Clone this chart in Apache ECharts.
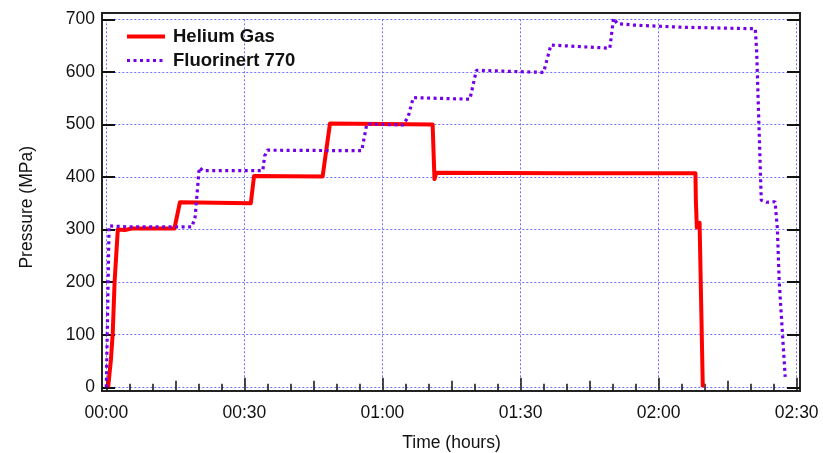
<!DOCTYPE html>
<html>
<head>
<meta charset="utf-8">
<script src="https://cdn.jsdelivr.net/npm/echarts@6/dist/echarts.min.js"></script>
<style>
html,body{margin:0;padding:0;background:#fff;}
#chart{width:823px;height:453px;}
</style>
</head>
<body>
<div id="chart"></div>
<script>
// time in minutes, pressure in MPa
const seriesNames = ['Helium Gas', 'Fluorinert 770'];
const xTickLabels = ['00:00', '00:30', '01:00', '01:30', '02:00', '02:30'];
const heliumTime = [0.4, 1.0, 1.4, 1.8, 2.5, 4.0, 5.5, 14.8, 16.0, 31.4, 32.1, 47.0, 48.6, 60.0, 70.9, 71.3, 71.7, 100.0, 128.0, 128.1, 128.3, 128.9, 129.6];
const heliumPressure = [0, 52, 103, 200, 300, 299, 302, 302, 352, 350, 402, 401, 502, 501, 500, 396, 408, 407, 407, 353, 304, 313, 0];
const fluoroTime = [0.0, 0.3, 0.6, 5.0, 18.6, 19.3, 20.2, 21.0, 34.0, 34.4, 35.0, 55.5, 56.6, 64.5, 65.6, 66.7, 79.0, 80.4, 95.0, 96.6, 109.4, 110.2, 111.0, 114.5, 124.7, 141.0, 141.3, 142.3, 143.5, 145.3, 145.8, 146.2, 146.9, 147.5];
const fluoroPressure = [0, 150, 307, 305, 305, 324, 418, 412, 412, 440, 451, 450, 501, 499, 515, 551, 548, 603, 599, 651, 645, 702, 692, 689, 685, 682, 640, 356, 352, 353, 302, 201, 103, 20];

const zip = (a, b) => a.map((v, i) => [v, b[i]]);
const font = "'Liberation Sans', Arial, Helvetica, sans-serif";
const gridColor = '#7070ff';
const heliumStyle = { color: '#ff0000', width: 4, type: 'solid', join: 'round' };
const fluoroStyle = { color: '#7400ea', width: 3.2, type: [3, 3.5] };

const chart = echarts.init(document.getElementById('chart'));
chart.setOption({
  animation: false,
  backgroundColor: '#fff',
  textStyle: { fontFamily: font },
  grid: [
    { left: 102, right: 23, top: 13, bottom: 62, show: true, borderColor: '#222', borderWidth: 2, backgroundColor: 'transparent', containLabel: false, outerBoundsMode: 'none' },
    { left: 106.3, right: 26.3, top: 19.3, bottom: 65.7, containLabel: false, outerBoundsMode: 'none' }
  ],
  legend: {
    orient: 'vertical',
    left: 117, top: 21,
    padding: [6, 8, 6, 8],
    itemWidth: 38, itemHeight: 16, itemGap: 5,
    itemStyle: { color: 'transparent', borderColor: 'transparent', borderWidth: 0 },
    textStyle: { fontSize: 18.5, fontWeight: 'bold', color: '#111', fontFamily: font, padding: [0, 0, 0, 3] },
    data: [
      { name: seriesNames[0], lineStyle: heliumStyle },
      { name: seriesNames[1], lineStyle: fluoroStyle }
    ]
  },
  xAxis: [
    { gridIndex: 0, type: 'value', min: 0, max: 1, show: false },
    {
      gridIndex: 1, type: 'value', min: 0, max: 150, interval: 30,
      position: 'bottom', offset: 3.4,
      axisLine: { show: false, onZero: false },
      axisTick: { show: true, inside: true, length: 13, lineStyle: { color: '#111', width: 1.5 } },
      axisLabel: { fontSize: 17.5, color: '#111', margin: 13, fontFamily: font,
        formatter: v => xTickLabels[Math.round(v / 30)] },
      splitLine: { show: true, lineStyle: { color: gridColor, type: [2, 2], width: 1 } },
      name: 'Time (hours)', nameLocation: 'middle', nameGap: 43,
      nameTextStyle: { fontSize: 17.5, color: '#111', fontFamily: font }
    },
    {
      gridIndex: 1, type: 'value', min: 0, max: 150, interval: 15,
      position: 'bottom', offset: 3.4,
      axisLine: { show: false, onZero: false },
      axisTick: { show: true, inside: true, length: 10, lineStyle: { color: '#111', width: 1.5 } },
      minorTick: { show: true, splitNumber: 3, length: 7, lineStyle: { color: '#111', width: 1.5 } },
      axisLabel: { show: false },
      splitLine: { show: false }
    }
  ],
  yAxis: [
    { gridIndex: 0, type: 'value', min: 0, max: 1, show: false },
    {
      gridIndex: 1, type: 'value', min: 0, max: 700, interval: 100,
      position: 'left', offset: 4.3,
      axisLine: { show: false, onZero: false },
      axisTick: { show: true, inside: true, length: 13, lineStyle: { color: '#111', width: 2 } },
      axisLabel: { fontSize: 17.5, color: '#111', margin: 7, fontFamily: font, padding: [3, 0, 0, 0] },
      splitLine: { show: true, lineStyle: { color: gridColor, type: [2, 2], width: 1 } },
      name: 'Pressure (MPa)', nameLocation: 'middle', nameGap: 66,
      nameTextStyle: { fontSize: 17.5, color: '#111', fontFamily: font, padding: [0, 8, 0, 0] }
    },
    {
      gridIndex: 1, type: 'value', min: 0, max: 700, interval: 100,
      position: 'right', offset: 3.3,
      axisLine: { show: false, onZero: false },
      axisTick: { show: true, inside: true, length: 13, lineStyle: { color: '#111', width: 2 } },
      axisLabel: { show: false },
      splitLine: { show: false }
    }
  ],
  series: [
    {
      name: seriesNames[0], type: 'line', xAxisIndex: 1, yAxisIndex: 1,
      data: zip(heliumTime, heliumPressure),
      symbol: 'none', z: 3,
      lineStyle: heliumStyle,
      itemStyle: { color: '#ff0000' }
    },
    {
      name: seriesNames[1], type: 'line', xAxisIndex: 1, yAxisIndex: 1,
      data: zip(fluoroTime, fluoroPressure),
      symbol: 'none', z: 4,
      lineStyle: fluoroStyle,
      itemStyle: { color: '#7400ea' }
    }
  ]
});
</script>
</body>
</html>
